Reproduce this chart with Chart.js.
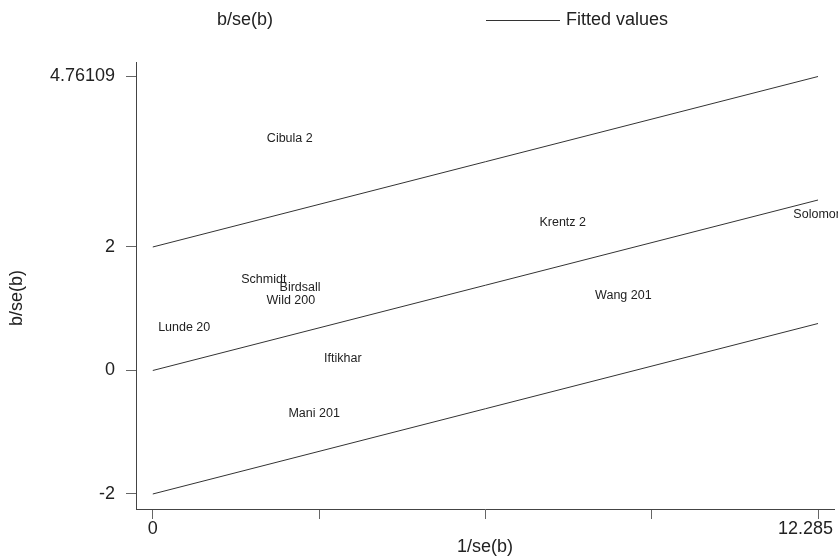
<!DOCTYPE html>
<html>
<head>
<meta charset="utf-8">
<script src="https://cdn.jsdelivr.net/npm/chart.js@4"></script>
<style>
  body { margin: 0; background: #fff; }
  #chart { display: block; }
</style>
</head>
<body>
<canvas id="chart" width="838" height="559"></canvas>
<script>
// study labels (truncated as in the plot) and their positions
const studyNames = ['Cibula 2', 'Schmidt', 'Birdsall', 'Wild 200', 'Lunde 20', 'Iftikhar', 'Mani 201', 'Krentz 2', 'Solomon', 'Wang 201'];
const precision = [2.53, 2.05, 2.72, 2.55, 0.58, 3.51, 2.98, 7.57, 12.285, 8.69]; // 1/se(b)
const zScore = [3.75, 1.47, 1.34, 1.13, 0.69, 0.20, -0.69, 2.40, 2.53, 1.22];     // b/se(b)

// fitted line and the +/-2 band
const fitX = [0, 12.285];
const fitMid = [0, 2.76109];
const fitUpper = [2, 4.76109];
const fitLower = [-2, 0.76109];

const xTicks = [0, 3.07125, 6.1425, 9.21375, 12.285];
const xTickLabels = ['0', '', '', '', '12.285'];
const yTicks = [-2, 0, 2, 4.76109];
const yTickLabels = ['-2', '0', '2', '4.76109'];

const FONT = "'Liberation Sans', Arial, sans-serif";
const LINE = '#333';

const toPoints = (xs, ys) => xs.map((x, i) => ({ x: x, y: ys[i] }));

const lineSet = (ys) => ({
    data: toPoints(fitX, ys),
    showLine: true,
    borderColor: LINE,
    borderWidth: 1,
    pointRadius: 0,
    fill: false
});

const textPlugin = {
    id: 'stataText',
    afterDraw(chart) {
        const ctx = chart.ctx;
        const xs = chart.scales.x;
        ctx.save();
        ctx.fillStyle = '#222';
        ctx.textBaseline = 'middle';

        // point labels, centred on the (invisible) markers
        ctx.font = '12.5px ' + FONT;
        ctx.textAlign = 'center';
        const meta = chart.getDatasetMeta(0);
        meta.data.forEach((pt, i) => {
            ctx.fillText(studyNames[i], pt.x, pt.y);
        });

        // x tick labels, last one kept inside the canvas
        ctx.font = '18px ' + FONT;
        xTicks.forEach((v, i) => {
            const label = xTickLabels[i];
            if (!label) return;
            const px = xs.getPixelForValue(v);
            const w = ctx.measureText(label).width;
            const cx = Math.min(px, chart.width - 5 - w / 2);
            ctx.textAlign = 'center';
            ctx.fillText(label, cx, 529);
        });

        // axis titles
        ctx.textAlign = 'center';
        ctx.fillText('1/se(b)', (chart.chartArea.left + chart.chartArea.right) / 2, 547);
        ctx.save();
        ctx.translate(17, 298);
        ctx.rotate(-Math.PI / 2);
        ctx.fillText('b/se(b)', 0, 0);
        ctx.restore();

        // legend
        ctx.textAlign = 'left';
        ctx.fillText('b/se(b)', 217, 20);
        ctx.strokeStyle = LINE;
        ctx.lineWidth = 1;
        ctx.beginPath();
        ctx.moveTo(486, 20.5);
        ctx.lineTo(560, 20.5);
        ctx.stroke();
        ctx.fillText('Fitted values', 566, 20);
        ctx.restore();
    }
};

new Chart(document.getElementById('chart'), {
    type: 'scatter',
    data: {
        datasets: [
            { data: toPoints(precision, zScore), pointRadius: 0, showLine: false },
            lineSet(fitUpper),
            lineSet(fitMid),
            lineSet(fitLower)
        ]
    },
    options: {
        responsive: false,
        animation: false,
        devicePixelRatio: 1,
        layout: { padding: { top: 62, right: 4, left: 0, bottom: 0 } },
        plugins: { legend: { display: false }, tooltip: { enabled: false } },
        scales: {
            x: {
                type: 'linear',
                min: -0.31,
                max: 12.58,
                afterBuildTicks: (scale) => { scale.ticks = xTicks.map(v => ({ value: v })); },
                afterFit: (scale) => { scale.height = 50; },
                ticks: { display: false },
                grid: { drawOnChartArea: false, drawTicks: true, tickLength: 10, color: '#666' },
                border: { color: '#444', width: 1 }
            },
            y: {
                type: 'linear',
                min: -2.243,
                max: 4.996,
                afterBuildTicks: (scale) => { scale.ticks = yTicks.map(v => ({ value: v })); },
                afterFit: (scale) => { scale.width = 136; },
                ticks: {
                    padding: 11,
                    color: '#222',
                    font: { family: FONT, size: 18 },
                    callback: (value, index) => yTickLabels[index]
                },
                grid: { drawOnChartArea: false, drawTicks: true, tickLength: 10, color: '#666' },
                border: { color: '#444', width: 1 }
            }
        }
    },
    plugins: [textPlugin]
});
</script>
</body>
</html>
